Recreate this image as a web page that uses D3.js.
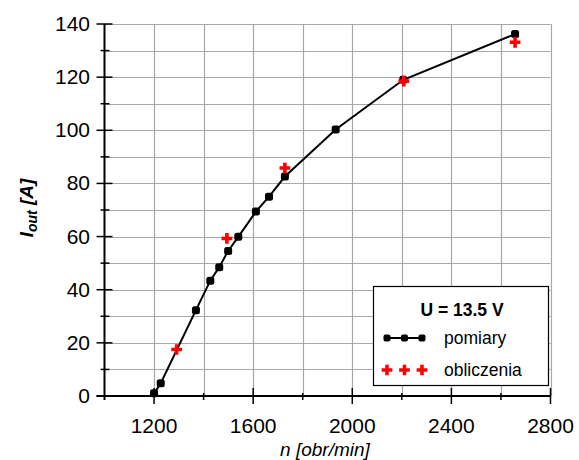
<!DOCTYPE html>
<html>
<head>
<meta charset="utf-8">
<script src="https://cdn.jsdelivr.net/npm/d3@7"></script>
<style>
  body{margin:0;background:#fff;}
  text{font-family:"Liberation Sans",Arial,sans-serif;}
</style>
</head>
<body>
<svg width="579" height="460"></svg>
<script>
// pomiary (measured)
let meas_n = [1200, 1227, 1369, 1427, 1463, 1499, 1540, 1611, 1664, 1728, 1933, 2206, 2657];
let meas_i = [1, 4.8, 32.3, 43.4, 48.5, 54.6, 59.9, 69.4, 75, 82.6, 100.3, 119, 136.2];
// obliczenia (calculated)
let calc_n = [1291, 1494, 1728, 2208, 2657];
let calc_i = [17.5, 59.3, 85.8, 118.5, 133.1];

let xticks = [1200, 1600, 2000, 2400, 2800];
let yticks = [0, 20, 40, 60, 80, 100, 120, 140];

let svg = d3.select("svg");
let x = d3.scaleLinear().domain([1000, 2800]).range([104.5, 550.5]);
let y = d3.scaleLinear().domain([0, 140]).range([396, 24]);

let grid = svg.append("g");
// horizontal grid every 10
grid.selectAll("line.h").data(d3.range(10, 141, 10))
  .join("line")
  .attr("x1", x(1000)).attr("x2", x(2800))
  .attr("y1", d=>Math.round(y(d))+0.5).attr("y2", d=>Math.round(y(d))+0.5)
  .attr("stroke", "#a8a8a8").attr("stroke-width", 1.2);
// vertical grid every 200
grid.selectAll("line.v").data(d3.range(1200, 2801, 200))
  .join("line")
  .attr("x1", d=>Math.round(x(d))+0.5).attr("x2", d=>Math.round(x(d))+0.5)
  .attr("y1", y(0)).attr("y2", y(140))
  .attr("stroke", "#a8a8a8").attr("stroke-width", 1.2);

// axes
let ax = svg.append("g").attr("stroke", "#000");
ax.append("line").attr("x1", x(1000)).attr("x2", x(1000)).attr("y1", y(0)+4).attr("y2", y(140)).attr("stroke-width", 2);
ax.append("line").attr("x1", x(1000)-8).attr("x2", x(2800)).attr("y1", y(0)).attr("y2", y(0)).attr("stroke-width", 2);

// y ticks
ax.selectAll("line.ym").data(yticks).join("line")
  .attr("x1", x(1000)-8).attr("x2", x(1000)+8)
  .attr("y1", d=>y(d)).attr("y2", d=>y(d)).attr("stroke-width", 1.5);
ax.selectAll("line.yn").data(d3.range(10, 140, 20)).join("line")
  .attr("x1", x(1000)-4).attr("x2", x(1000)+5)
  .attr("y1", d=>y(d)).attr("y2", d=>y(d)).attr("stroke-width", 1.5);
// x ticks
ax.selectAll("line.xm").data(xticks).join("line")
  .attr("x1", d=>x(d)).attr("x2", d=>x(d))
  .attr("y1", y(0)-8).attr("y2", y(0)+8).attr("stroke-width", 1.5);
ax.selectAll("line.xn").data(d3.range(1400, 2800, 400)).join("line")
  .attr("x1", d=>x(d)).attr("x2", d=>x(d))
  .attr("y1", y(0)-3).attr("y2", y(0)+4).attr("stroke-width", 1.5);

svg.selectAll("text.yl").data(yticks).join("text")
  .attr("x", 90).attr("y", d=>y(d)+7)
  .attr("text-anchor", "end").attr("font-size", 21)
  .text(d=>d);
svg.selectAll("text.xl").data(xticks).join("text")
  .attr("x", d=>x(d)).attr("y", 433)
  .attr("text-anchor", "middle").attr("font-size", 21)
  .text(d=>d);

// axis titles
svg.append("text").attr("x", 325).attr("y", 456)
  .attr("text-anchor", "middle").attr("font-size", 19).attr("font-style", "italic")
  .text("n [obr/min]");
let yt = svg.append("text").attr("transform", "translate(33,208) rotate(-90)")
  .attr("text-anchor", "middle").attr("font-size", 19)
  .attr("font-style", "italic").attr("font-weight", "bold");
yt.append("tspan").text("I");
yt.append("tspan").attr("font-size", 14).attr("dy", 4).text("out");
yt.append("tspan").attr("dy", -4).text(" [A]");

// measured line + markers
let meas = meas_n.map((n, i) => [n, meas_i[i]]);
let calc = calc_n.map((n, i) => [n, calc_i[i]]);
svg.append("path").datum(meas)
  .attr("d", d3.line().x(d=>x(d[0])).y(d=>y(d[1])))
  .attr("fill", "none").attr("stroke", "#000").attr("stroke-width", 2);
svg.selectAll("rect.m").data(meas).join("rect")
  .attr("x", d=>x(d[0])-4).attr("y", d=>y(d[1])-4)
  .attr("width", 8).attr("height", 8).attr("rx", 2.5)
  .attr("fill", "#000");

let cross = d3.symbol().type(d3.symbolCross).size(64);
svg.selectAll("path.c").data(calc).join("path")
  .attr("transform", d=>`translate(${x(d[0])},${y(d[1])})`)
  .attr("d", cross).attr("fill", "#f00");

// legend
let lg = svg.append("g");
lg.append("rect").attr("x", 373.5).attr("y", 286.5).attr("width", 175).attr("height", 99)
  .attr("fill", "#fff").attr("stroke", "#000").attr("stroke-width", 1.2);
lg.append("text").attr("x", 462).attr("y", 316).attr("text-anchor", "middle")
  .attr("font-size", 17.5).attr("font-weight", "bold").text("U = 13.5 V");
let lx = [387, 404.5, 422];
lg.append("line").attr("x1", lx[0]).attr("x2", lx[2]).attr("y1", 338).attr("y2", 338)
  .attr("stroke", "#000").attr("stroke-width", 2);
lg.selectAll("rect.lm").data(lx).join("rect")
  .attr("x", d=>d-3.5).attr("y", 334.5).attr("width", 7).attr("height", 7).attr("rx", 2)
  .attr("fill", "#000");
lg.selectAll("path.lc").data(lx).join("path")
  .attr("transform", d=>`translate(${d},370)`)
  .attr("d", cross).attr("fill", "#f00");
lg.append("text").attr("x", 444).attr("y", 344).attr("font-size", 17.5).text("pomiary");
lg.append("text").attr("x", 444).attr("y", 376).attr("font-size", 17.5).text("obliczenia");
</script>
</body>
</html>
